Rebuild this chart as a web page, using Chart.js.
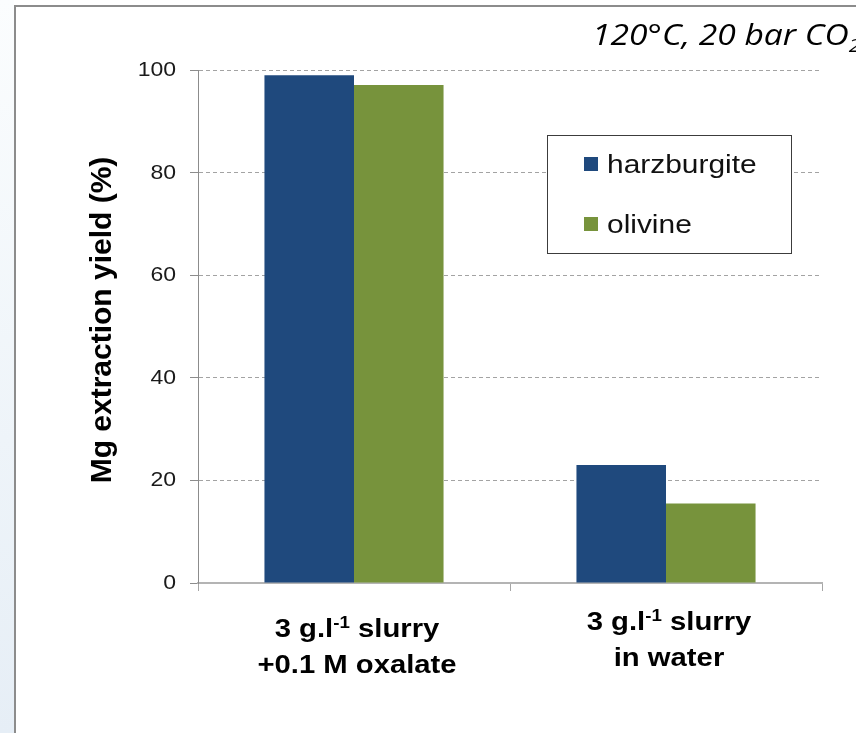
<!DOCTYPE html>
<html>
<head>
<meta charset="utf-8">
<script src="https://cdn.jsdelivr.net/npm/chart.js@4.4.1/dist/chart.umd.min.js"></script>
<style>
  html, body { margin: 0; padding: 0; background: #fff; overflow: hidden; }
  #wrap  { position: relative; width: 856px; height: 733px; }
  #strip { position: absolute; left: 0; top: 0; width: 14px; height: 733px;
           background: linear-gradient(180deg, #fbfdfe 0%, #eef4f9 60%, #e6eef6 100%); }
  #frame { position: absolute; left: 14px; top: 5px; width: 860px; height: 740px;
           border-left: 2px solid #8c8c8c; border-top: 2px solid #8c8c8c; }
  canvas { position: absolute; left: 0; top: 0; }
</style>
</head>
<body>
<div id="wrap">
  <div id="strip"></div>
  <div id="frame"></div>
  <canvas id="chart" width="856" height="733"></canvas>
</div>
<script>
'use strict';

// ── Data ──────────────────────────────────────────────────
// {..} marks superscript, [..] marks subscript
const categories  = ['oxalate', 'water'];
const catLines    = [
  ['3 g.l{-1} slurry', '+0.1 M oxalate'],
  ['3 g.l{-1} slurry', 'in water']
];
const harzburgite = [99.0, 23.0];
const olivine     = [97.1, 15.5];
const seriesNames = ['harzburgite', 'olivine'];
const yTicks      = [0, 20, 40, 60, 80, 100];
const titleText   = '120°C, 20 bar CO[2]';
const yTitle      = 'Mg extraction yield (%)';

const BLUE    = '#1f497d';
const GREEN   = '#77933c';
const SANS    = '"Liberation Sans", Arial, sans-serif';
const STRETCH = 1.15;   // the source picture is a bit wider than tall

// ── Helpers ───────────────────────────────────────────────
// split "a{b}c[d]" into runs: {t, mode} mode 0 normal, 1 sup, -1 sub
function _runs(str) {
  const out = [];
  const re  = /\{([^}]*)\}|\[([^\]]*)\]|([^{\[]+)/g;
  let m;
  while ((m = re.exec(str))) {
    if (m[1] !== undefined)      out.push({ t: m[1], mode: 1 });
    else if (m[2] !== undefined) out.push({ t: m[2], mode: -1 });
    else                         out.push({ t: m[3], mode: 0 });
  }
  return out;
}

function drawRich(ctx, str, x, y, opt) {
  const runs   = _runs(str);
  const small  = Math.round(opt.size * 0.62);
  const sx     = opt.stretch || 1;
  const fontOf = r => `${opt.style || ''} ${opt.weight || ''} ${r.mode ? small : opt.size}px ${opt.family}`;
  let w = 0;
  for (const r of runs) { ctx.font = fontOf(r); w += ctx.measureText(r.t).width; }
  let cx = opt.align === 'center' ? -w / 2 : opt.align === 'right' ? -w : 0;
  ctx.save();
  ctx.translate(x, y);
  ctx.scale(sx, 1);
  ctx.textAlign    = 'left';
  ctx.textBaseline = 'alphabetic';
  ctx.fillStyle    = opt.color || '#000';
  for (const r of runs) {
    ctx.font = fontOf(r);
    const dy = r.mode === 1 ? -opt.size * 0.36 : r.mode === -1 ? opt.size * 0.22 : 0;
    ctx.fillText(r.t, cx, dy);
    cx += ctx.measureText(r.t).width;
  }
  ctx.restore();
}

// ── Plugin: labels, title, legend ─────────────────────────
const decorPlugin = {
  id: 'decor',
  afterDatasetsDraw(chart) {
    const ctx = chart.ctx;
    // legend box
    const bx = 547, by = 135, bw = 244, bh = 118;
    ctx.save();
    ctx.fillStyle = '#fff';
    ctx.fillRect(bx, by, bw, bh);
    ctx.strokeStyle = '#3c3c3c';
    ctx.lineWidth = 1;
    ctx.strokeRect(bx + 0.5, by + 0.5, bw, bh);
    chart.data.datasets.forEach((ds, i) => {
      const iy = by + 29 + i * 60;
      ctx.fillStyle = ds.backgroundColor;
      ctx.fillRect(bx + 37, iy - 7, 14, 14);
      drawRich(ctx, ds.label, bx + 60, iy + 9, { size: 26, family: SANS, color: '#111', stretch: STRETCH });
    });
    ctx.restore();
  },
  afterDraw(chart) {
    const ctx = chart.ctx;
    const xs  = chart.scales.x;
    const ys  = chart.scales.y;
    // y tick labels
    ys.ticks.forEach(t => {
      drawRich(ctx, String(t.value), 176, ys.getPixelForValue(t.value) + 6,
        { size: 20, family: SANS, align: 'right', color: '#1a1a1a', stretch: STRETCH });
    });
    // category labels
    catLines.forEach((lines, i) => {
      const cx = xs.getPixelForTick(i) + 3;
      const y0 = i === 0 ? 637 : 630;
      lines.forEach((ln, j) => {
        drawRich(ctx, ln, cx, y0 + j * 36,
          { size: 25, weight: 'bold', family: SANS, align: 'center', color: '#000', stretch: 1.17 });
      });
    });
    // y axis title
    ctx.save();
    ctx.translate(103, 320);
    ctx.rotate(-Math.PI / 2);
    ctx.font = `bold 30px ${SANS}`;
    ctx.fillStyle = '#000';
    ctx.textAlign = 'center';
    ctx.textBaseline = 'middle';
    ctx.fillText(yTitle, 0, 0);
    ctx.restore();
    // condition title (top right, runs off the edge)
    drawRich(ctx, titleText, 592, 45,
      { size: 30, style: 'italic', family: '"Open Sans", sans-serif', color: '#000', stretch: 1.12 });
  }
};

// ── Chart ─────────────────────────────────────────────────
new Chart(document.getElementById('chart'), {
  type: 'bar',
  data: {
    labels: categories,
    datasets: [
      { label: seriesNames[0], data: harzburgite, backgroundColor: BLUE },
      { label: seriesNames[1], data: olivine,     backgroundColor: GREEN }
    ]
  },
  options: {
    responsive: false,
    animation: false,
    datasets: { bar: { categoryPercentage: 0.574, barPercentage: 1.0 } },
    layout: { padding: { top: 70, right: 34, left: 0, bottom: 0 } },
    plugins: { legend: { display: false }, tooltip: { enabled: false } },
    scales: {
      x: {
        offset: true,
        ticks: { display: false },
        grid: { offset: true, drawOnChartArea: false, color: '#a6a6a6', tickLength: 8 },
        border: { color: '#b4b4b4', width: 2 },
        afterFit: s => { s.height = 150; }
      },
      y: {
        min: 0, max: 100,
        afterBuildTicks: s => { s.ticks = yTicks.map(v => ({ value: v })); },
        ticks: { display: false },
        grid: {
          color: c => c.tick && c.tick.value === 0 ? 'rgba(0,0,0,0)' : '#a3a3a3',
          tickColor: '#8c8c8c', tickLength: 8, tickBorderDash: []
        },
        border: { color: '#8c8c8c', width: 1, dash: [4, 3] },
        afterFit: s => { s.width = 198; }
      }
    }
  },
  plugins: [decorPlugin]
});
</script>
</body>
</html>
